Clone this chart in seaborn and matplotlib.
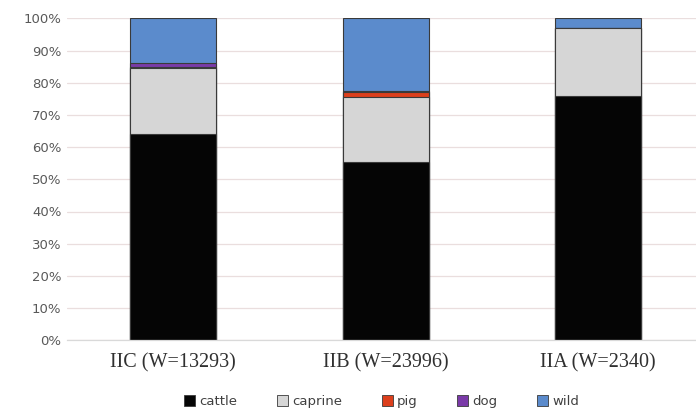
import numpy as np
import pandas as pd
import matplotlib
matplotlib.use("Agg")
import matplotlib.pyplot as plt
import seaborn as sns
from matplotlib.patches import Patch

# data (percent of each phase)
phases = ["IIC (W=13293)", "IIB (W=23996)", "IIA (W=2340)"]
species = ["cattle", "caprine", "pig", "dog", "wild"]
cattle = [64.1, 55.3, 76.0]
caprine = [20.4, 20.4, 20.9]
pig = [0.3, 1.4, 0.0]
dog = [1.2, 0.3, 0.0]
wild = [14.0, 22.6, 3.1]
colors = ["#050505", "#d6d6d6", "#dc3f1c", "#7a3aa8", "#5b8bcc"]

df = pd.DataFrame({"phase": phases, "cattle": cattle, "caprine": caprine,
                   "pig": pig, "dog": dog, "wild": wild})
cum = df[species].cumsum(axis=1) / 100.0

sns.set_style("white")
fig = plt.figure(figsize=(6.96, 4.17), dpi=100)
ax = fig.add_axes([67/696, 1 - 340.3/417, 1 - 67/696, (340.3 - 18.3)/417])

# stacked bars: draw cumulative totals from the top layer down
for sp, col in reversed(list(zip(species, colors))):
    sns.barplot(x=df["phase"], y=cum[sp], color=col, saturation=1,
                width=0.405, edgecolor="#3a3a3a", linewidth=0.8, ax=ax)

ax.set_ylim(0, 1)
ax.set_xlim(-0.5, 2.46)
ax.set_yticks(np.arange(0, 1.01, 0.1))
ax.set_yticklabels([f"{int(round(v*100))}%" for v in np.arange(0, 1.01, 0.1)],
                   fontsize=9.5, color="#595959")
ax.set_xticks(range(3))
ax.set_xticklabels(phases, fontsize=14.5, family="Liberation Serif", color="#303030")
ax.tick_params(axis="both", length=0)
ax.tick_params(axis="y", pad=4)
ax.tick_params(axis="x", pad=9)
ax.set_xlabel("")
ax.set_ylabel("")
ax.yaxis.grid(True, color="#eadede", linewidth=0.9)
ax.set_axisbelow(True)
for s in ["top", "right", "left"]:
    ax.spines[s].set_visible(False)
ax.spines["bottom"].set_color("#d9d9d9")
ax.spines["bottom"].set_linewidth(0.9)

handles = [Patch(facecolor=c, edgecolor="#3a3a3a", linewidth=0.6) for c in colors]
ax.legend(handles, species, loc="center", bbox_to_anchor=(0.5, -0.19),
          ncol=5, frameon=False, fontsize=9.5, handlelength=0.85,
          handleheight=0.85, handletextpad=0.3, columnspacing=3.0,
          labelcolor="#404040")

fig.savefig("out.png", dpi=100)
